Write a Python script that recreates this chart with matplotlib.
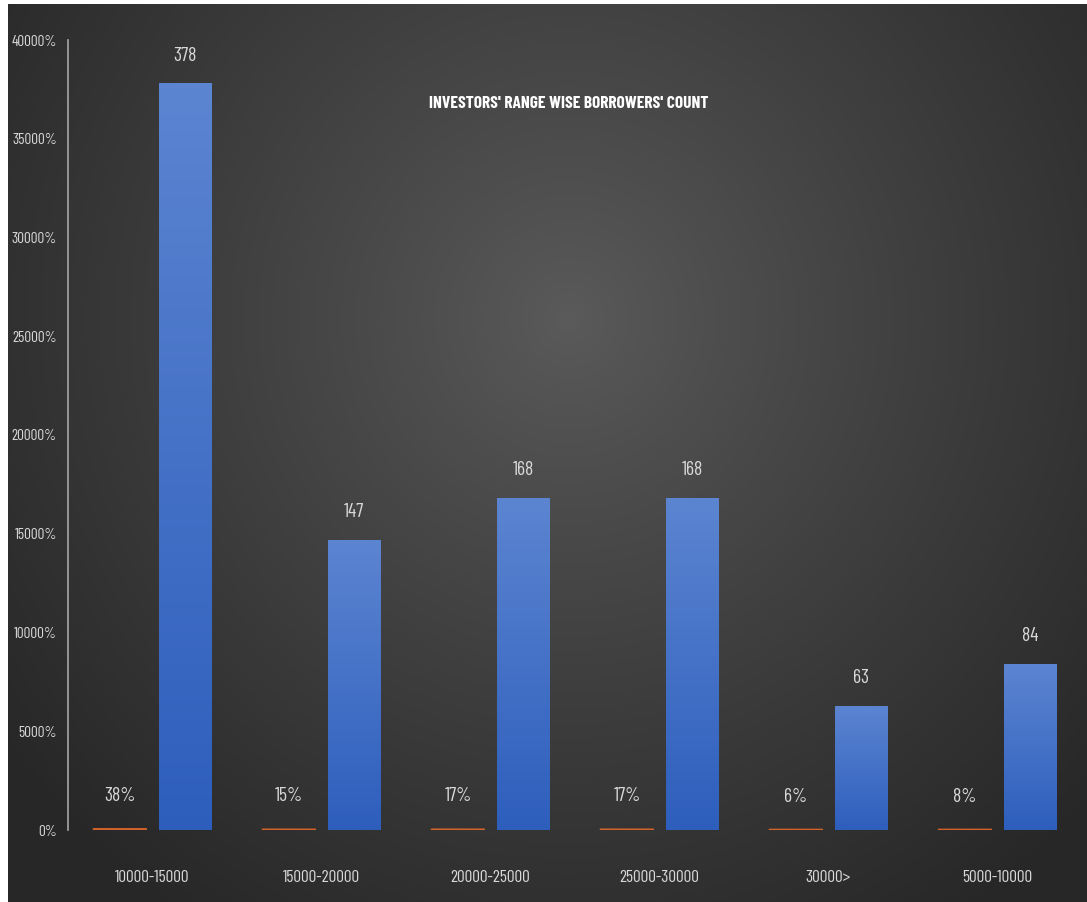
import matplotlib
matplotlib.use("Agg")
import matplotlib.pyplot as plt
import numpy as np
from matplotlib.ticker import FuncFormatter

categories = ["10000-15000", "15000-20000", "20000-25000", "25000-30000", "30000>", "5000-10000"]
share = [0.38, 0.15, 0.17, 0.17, 0.06, 0.08]   # orange series (fraction)
counts = [378, 147, 168, 168, 63, 84]           # blue series
share_labels = ["38%", "15%", "17%", "17%", "6%", "8%"]

plt.rcParams['font.family'] = ['Barlow Condensed', 'DejaVu Sans']

W, H = 1087, 902
fig = plt.figure(figsize=(W / 100, H / 100), dpi=100, facecolor="white")

# radial gray background
bg = fig.add_axes([8 / W, 0, 1 - 8 / W, 1 - 4 / H])
bg.set_axis_off()
yy, xx = np.mgrid[0:1:400j, 0:1:480j]
r = np.sqrt(((xx - 0.52) / 0.65) ** 2 + ((yy - 0.35) / 0.8) ** 2)
shade = 0.355 - 0.20 * np.clip(r, 0, 1) ** 0.9
bg.imshow(np.dstack([shade] * 3), extent=[0, 1, 1, 0], aspect="auto", interpolation="bilinear")
bg.set_xlim(0, 1); bg.set_ylim(1, 0)

ax = fig.add_axes([68 / W, 1 - 830 / H, 1014 / W, 790 / H])
ax.patch.set_alpha(0)

x = np.arange(len(categories))
w = 0.308
off = 0.193

ob = ax.bar(x - off, share, w, color="#d0622a", edgecolor="#d0622a", linewidth=1.6, zorder=3)
for b in ob:
    b.set_snap(False)
bb = ax.bar(x + off, counts, w, color="#4472c4", edgecolor="#2d4f8f", linewidth=0.6, zorder=3)

# vertical gradient on blue bars
grad = np.linspace(0, 1, 256).reshape(-1, 1)
top = np.array([0.36, 0.52, 0.82])
bot = np.array([0.18, 0.37, 0.74])
img = top + (bot - top) * grad[..., None]
for b in bb:
    im = ax.imshow(img, extent=[b.get_x(), b.get_x() + b.get_width(), 0, b.get_height()],
                   aspect="auto", zorder=3.5, interpolation="bilinear")
    im.set_clip_path(b)

for rect, v in zip(bb, counts):
    ax.annotate(str(v), (rect.get_x() + rect.get_width() / 2, rect.get_height()),
                xytext=(0, 20), textcoords="offset points", ha="center", va="center",
                color="#d9d9d9", fontsize=14)
for rect, s in zip(ob, share_labels):
    ax.annotate(s, (rect.get_x() + rect.get_width() / 2, rect.get_height()),
                xytext=(0, 24), textcoords="offset points", ha="center", va="center",
                color="#d9d9d9", fontsize=14)

ax.set_xlim(-0.5, len(categories) - 0.5)
ax.set_ylim(0, 400)
ax.set_yticks(np.arange(0, 401, 50))
ax.yaxis.set_major_formatter(FuncFormatter(lambda v, p: f"{v * 100:.0f}%"))
ax.set_xticks(x)
ax.set_xticklabels(categories)
ax.tick_params(axis="both", length=0, colors="#d9d9d9")
ax.tick_params(axis="x", pad=29, labelsize=12.5)
ax.tick_params(axis="y", pad=8, labelsize=11)
for side in ["top", "right", "bottom"]:
    ax.spines[side].set_visible(False)
ax.spines["left"].set_color("#a6a6a6")
ax.spines["left"].set_linewidth(1.2)

fig.text(569 / W, 1 - 104 / H, "INVESTORS' RANGE WISE BORROWERS' COUNT",
         ha="center", va="center", color="white", fontsize=12.5, fontweight="bold")

fig.savefig("out.png", dpi=100, facecolor="white")
